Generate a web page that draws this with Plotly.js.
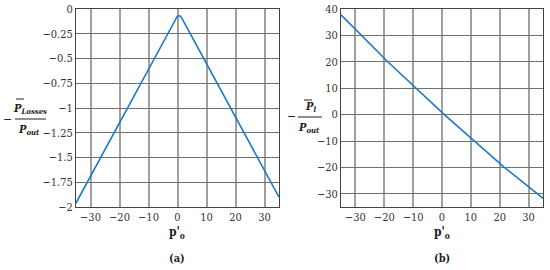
<!DOCTYPE html>
<html>
<head>
<meta charset="utf-8">
<script src="https://cdn.plot.ly/plotly-3.0.1.min.js"></script>
<style>
  body { margin: 0; background: white; }
  #plot { width: 550px; height: 270px; }
</style>
</head>
<body>
<div id="plot"></div>
<script>
// panel (a): losses vs p'o
const lossX = [-35, -1, 0, 1, 2, 35];
const lossY = [-1.96, -0.12, -0.07, -0.07, -0.12, -1.9];
// panel (b): Pl vs p'o
const plX = [-35, -18.8, 0.8, 21.6, 35];
const plY = [37.8, 20, 0, -20, -31.7];

const xTicks = [-30, -20, -10, 0, 10, 20, 30];
const lossTicks = [0, -0.25, -0.5, -0.75, -1, -1.25, -1.5, -1.75, -2];
const lossTickText = ['0', '\u22120.25', '\u22120.5', '\u22120.75', '\u22121', '\u22121.25', '\u22121.5', '\u22121.75', '\u22122'];
const plTicks = [40, 30, 20, 10, 0, -10, -20, -30];

// Liberation Serif / Times are not picked up here, the condensed DejaVu serif is closest
const fontFam = 'DejaVu Serif Condensed';
const W = 550, H = 270;
const px = (x) => x / W;
const py = (y) => 1 - y / H;

function minusText(v) {
  return v < 0 ? '\u2212' + Math.abs(v) : String(v);
}

const data = [
  { x: lossX, y: lossY, xaxis: 'x', yaxis: 'y', mode: 'lines',
    line: { color: '#1f78c8', width: 1.6 }, hoverinfo: 'none' },
  { x: plX, y: plY, xaxis: 'x2', yaxis: 'y2', mode: 'lines',
    line: { color: '#1f78c8', width: 1.6 }, hoverinfo: 'none' }
];

const tickFont = { family: fontFam, size: 11, color: '#333' };
const xBase = {
  range: [-35, 35], tickvals: xTicks, ticktext: xTicks.map(minusText),
  showgrid: true, gridcolor: '#a0a0a0', gridwidth: 2,
  showline: true, linecolor: '#444', linewidth: 1, mirror: true,
  zeroline: false, ticks: '', tickfont: tickFont
};
const yBase = {
  showgrid: true, gridcolor: '#707070', gridwidth: 1,
  showline: true, linecolor: '#444', linewidth: 1, mirror: true,
  zeroline: false, ticks: '', tickfont: tickFont
};

const layout = {
  width: W, height: H,
  margin: { l: 0, r: 0, t: 0, b: 0 },
  paper_bgcolor: 'white', plot_bgcolor: 'white',
  showlegend: false,
  font: { family: fontFam },
  xaxis: Object.assign({}, xBase, { domain: [px(76), px(279)], anchor: 'y' }),
  yaxis: Object.assign({}, yBase, { domain: [py(207), py(9)], anchor: 'x',
    range: [-2, 0], tickvals: lossTicks, ticktext: lossTickText }),
  xaxis2: Object.assign({}, xBase, { domain: [px(341), px(543)], anchor: 'y2' }),
  yaxis2: Object.assign({}, yBase, { domain: [py(207), py(9)], anchor: 'x2',
    range: [-35, 40], tickvals: plTicks, ticktext: plTicks.map(minusText) }),
  annotations: [],
  shapes: []
};

function note(text, x, y, size) {
  layout.annotations.push({
    text: text, x: px(x), y: py(y), xref: 'paper', yref: 'paper',
    showarrow: false, xanchor: 'center', yanchor: 'middle',
    font: { family: fontFam, size: size || 11, color: '#222' }
  });
}
function bar(x0, x1, y) {
  layout.shapes.push({
    type: 'line', xref: 'paper', yref: 'paper',
    x0: px(x0), x1: px(x1), y0: py(y), y1: py(y),
    line: { color: '#222', width: 1 }
  });
}

// y title (a)
note('\u2212', 7, 119, 12);
note('<b><i>P<sub>Losses</sub></i></b>', 30, 109, 11);
bar(16, 24, 99);
bar(15, 46, 119);
note('<b><i>P<sub>out</sub></i></b>', 29, 130, 11);

// y title (b)
note('\u2212', 291, 116, 12);
note('<b><i>P<sub>l</sub></i></b>', 310, 107, 11);
bar(304, 312, 100);
bar(298, 322, 117);
note('<b><i>P<sub>out</sub></i></b>', 309, 128, 11);

// x titles and panel labels
note("<b>p'<sub>o</sub></b>", 177, 233, 12);
note("<b>p'<sub>o</sub></b>", 442, 233, 12);
note('<b>(a)</b>', 177, 258, 11);
note('<b>(b)</b>', 442, 258, 11);

Plotly.newPlot('plot', data, layout, { staticPlot: true });
</script>
</body>
</html>
